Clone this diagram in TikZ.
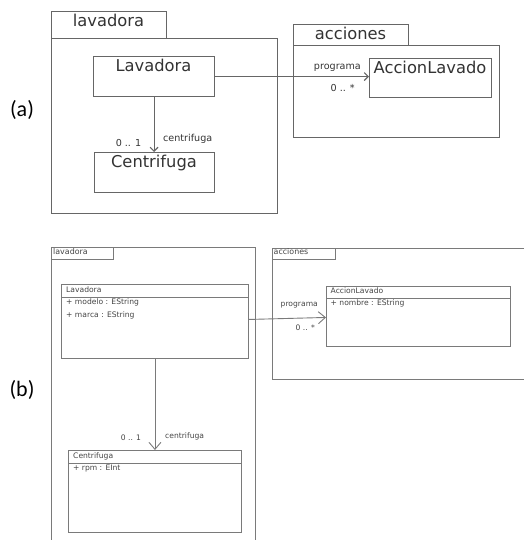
\documentclass[tikz,border=0pt]{standalone}
\usepackage{fontspec}
\setmainfont{DejaVu Sans}
\newfontfamily\labfont{Carlito}
\usetikzlibrary{arrows.meta,calc}
\definecolor{linec}{HTML}{666666}
\definecolor{lineb}{HTML}{7A7A7A}
\definecolor{textc}{HTML}{333333}
\definecolor{textb}{HTML}{444444}
\begin{document}
\begin{tikzpicture}[x=1pt,y=-1pt,
  box/.style={draw=linec,line width=1.1pt,rectangle,inner sep=0pt,anchor=north west},
  boxb/.style={draw=lineb,line width=0.9pt,rectangle,inner sep=0pt,anchor=north west},
  pline/.style={draw=lineb,line width=0.9pt},
  bigtxt/.style={font=\fontsize{16.3}{18}\selectfont,text=textc,inner sep=0pt},
  smalltxt/.style={font=\fontsize{9.6}{11}\selectfont,text=textc,inner sep=0pt},
  tinytxt/.style={font=\fontsize{7.6}{9}\selectfont,text=textb,inner sep=0pt,anchor=base west},
  partlab/.style={font=\labfont\fontsize{22}{26}\selectfont,text=black,inner sep=0pt,anchor=base},
  assocA/.style={draw=linec,line width=1.1pt,-{Straight Barb[length=4pt,width=8pt]}},
  assocB/.style={draw=lineb,line width=0.9pt,-{Straight Barb[length=7pt,width=12pt]}}
]
\useasboundingbox (0,0) rectangle (524,540);

% ---------- (a) ----------
\node[partlab] (labA) at (22,116.5) {(a)};

\node[box,minimum width=115pt,minimum height=27pt] (tabA1) at (51,11) {};
\node[bigtxt,anchor=base] (tabA1t) at (108.5,26.7) {lavadora};
\node[box,minimum width=226pt,minimum height=175pt] (pkgA1) at (51,38) {};

\node[box,minimum width=115pt,minimum height=21pt] (tabA2) at (293,24) {};
\node[bigtxt,anchor=base] (tabA2t) at (350.5,40) {acciones};
\node[box,minimum width=206pt,minimum height=92pt] (pkgA2) at (293,45) {};

\node[box,minimum width=121pt,minimum height=40pt] (LavA) at (93,56) {};
\node[bigtxt,anchor=base] (LavAt) at (153.5,71.7) {Lavadora};

\node[box,minimum width=120pt,minimum height=40pt] (CenA) at (94,152) {};
\node[bigtxt,anchor=base] (CenAt) at (154,167.7) {Centrifuga};

\node[box,minimum width=122pt,minimum height=39pt] (AccA) at (369,58) {};
\node[bigtxt,anchor=base] (AccAt) at (430,73.3) {AccionLavado};

\draw[assocA] (LavA.south) -- (LavA.south |- CenA.north);
\node[smalltxt,anchor=base] (mulA1) at (128.5,146.7) {0 .. 1};
\node[smalltxt,anchor=base west] (rolA1) at (163,141.7) {centrifuga};

\draw[assocA] (LavA.east) -- (LavA.east -| AccA.west);
\node[smalltxt,anchor=base east] (rolA2) at (361,70) {programa};
\node[smalltxt,anchor=base east] (mulA2) at (355,91.7) {0 .. *};

% ---------- (b) ----------
\node[partlab] (labB) at (22,396.5) {(b)};

\draw[pline] (51,540) -- (51,247) -- (255,247) -- (255,540);
\node[boxb,minimum width=62pt,minimum height=12pt] (tabB1) at (51,247) {};
\node[tinytxt,font=\fontsize{7.9}{9}\selectfont] (tabB1t) at (53,254.5) {lavadora};

\draw[pline] (524,248) -- (272,248) -- (272,379) -- (524,379);
\node[boxb,minimum width=63pt,minimum height=11pt] (tabB2) at (272,248) {};
\node[tinytxt,font=\fontsize{7.9}{9}\selectfont] (tabB2t) at (273.5,254.5) {acciones};

% Lavadora class
\node[boxb,minimum width=187pt,minimum height=74pt] (LavB) at (61,284) {};
\draw[pline] ($(LavB.north west)+(0,13)$) -- ($(LavB.north east)+(0,13)$);
\node[tinytxt] (LavBt) at (66,292) {Lavadora};
\node[tinytxt] (LavBa1) at (66,304.3) {+ modelo : EString};
\node[tinytxt] (LavBa2) at (66,317) {+ marca : EString};

% Centrifuga class
\node[boxb,minimum width=173pt,minimum height=82pt] (CenB) at (68,450) {};
\draw[pline] ($(CenB.north west)+(0,13)$) -- ($(CenB.north east)+(0,13)$);
\node[tinytxt] (CenBt) at (73,458.3) {Centrifuga};
\node[tinytxt] (CenBa1) at (73,470.7) {+ rpm : EInt};

% AccionLavado class
\node[boxb,minimum width=184pt,minimum height=60pt] (AccB) at (326,286) {};
\draw[pline] ($(AccB.north west)+(0,12)$) -- ($(AccB.north east)+(0,12)$);
\node[tinytxt] (AccBt) at (330.5,293.3) {AccionLavado};
\node[tinytxt] (AccBa1) at (330.5,305.7) {+ nombre : EString};

% associations
\draw[assocB] (LavB.south) -- (LavB.south |- CenB.north);
\node[tinytxt,anchor=base] (mulB1) at (131,440) {0 .. 1};
\node[tinytxt] (rolB1) at (165,438.3) {centrifuga};

\draw[assocB] ($(LavB.east)+(0,-2)$) -- ($(AccB.west)+(0,1)$);
\node[tinytxt,anchor=base east] (rolB2) at (318,306.7) {programa};
\node[tinytxt,anchor=base east] (mulB2) at (315,330) {0 .. *};
\end{tikzpicture}
\end{document}
